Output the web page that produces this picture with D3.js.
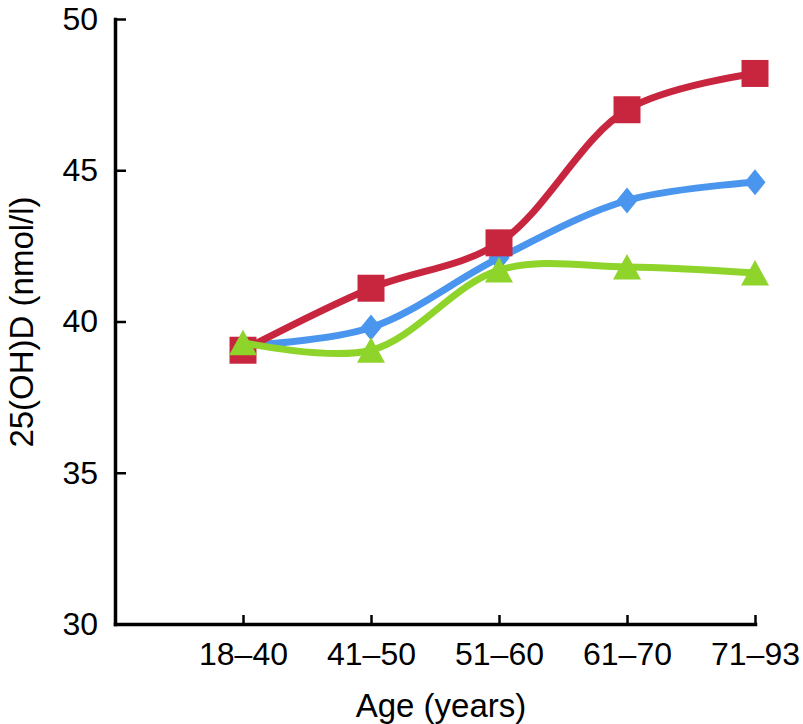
<!DOCTYPE html>
<html>
<head>
<meta charset="utf-8">
<script src="https://cdn.jsdelivr.net/npm/d3@7"></script>
<style>
  html, body { margin: 0; padding: 0; background: #fff; }
  svg { display: block; }
  text { font-family: "Liberation Sans", Arial, Helvetica, sans-serif; fill: #000; }
</style>
</head>
<body>
<svg id="chart" width="803" height="724"></svg>
<script>
// ---- data ----
const categories = ["18–40", "41–50", "51–60", "61–70", "71–93"];
const redSquares = [39.05, 41.1, 42.6, 47.0, 48.2];
const blueDiamonds = [39.2, 39.8, 42.1, 44.0, 44.6];
const greenTriangles = [39.3, 39.05, 41.7, 41.8, 41.6];
const yTicks = [30, 35, 40, 45, 50];
const xTitle = "Age (years)";
const yTitle = "25(OH)D (nmol/l)";

// ---- layout ----
const svg = d3.select("#chart");
const x = d3.scaleLinear().domain([0, categories.length]).range([115, 755]);
const y = d3.scaleLinear().domain([30, 50]).range([624, 19]);

const series = [
  { name: "blue", values: blueDiamonds, color: "#4a96ef", shape: "diamond" },
  { name: "red", values: redSquares, color: "#c8263f", shape: "square" },
  { name: "green", values: greenTriangles, color: "#8ed42b", shape: "triangle" }
];

function markerPath(shape) {
  const p = d3.path();
  if (shape === "square") {
    const h = 13.5;
    p.rect(-h, -h, 2 * h, 2 * h);
  } else if (shape === "diamond") {
    p.moveTo(0, -13); p.lineTo(10.5, 0); p.lineTo(0, 13); p.lineTo(-10.5, 0); p.closePath();
  } else {
    p.moveTo(0, -13); p.lineTo(14, 12.5); p.lineTo(-14, 12.5); p.closePath();
  }
  return p.toString();
}

// axes
const yAxis = d3.axisLeft(y).tickValues(yTicks).tickSizeInner(-11).tickSizeOuter(0).tickPadding(17);
const xAxis = d3.axisBottom(x).tickValues(categories.map((_, i) => i + 1))
  .tickFormat(i => categories[i - 1]).tickSizeInner(-9).tickSizeOuter(0).tickPadding(18);

const gx = svg.append("g").attr("transform", `translate(0,${y(30)})`).call(xAxis);
const gy = svg.append("g").attr("transform", `translate(${x(0)},0)`).call(yAxis);
[gx, gy].forEach(g => {
  g.select(".domain").attr("stroke", "#000").attr("stroke-width", 3.5).attr("stroke-linecap", "square");
  g.selectAll(".tick line").attr("stroke", "#000").attr("stroke-width", 2.5);
  g.selectAll(".tick text").attr("font-size", 32).attr("font-family", "Liberation Sans, Arial, sans-serif").attr("fill", "#000");
});

// lines
const line = d3.line().x((d, i) => x(i + 1)).y(d => y(d)).curve(d3.curveCatmullRom.alpha(0.5));
series.forEach(s => {
  svg.append("path").datum(s.values)
    .attr("d", line)
    .attr("fill", "none")
    .attr("stroke", s.color)
    .attr("stroke-width", 7)
    .attr("stroke-linejoin", "round")
    .attr("stroke-linecap", "round");
  svg.append("g").selectAll("path").data(s.values).join("path")
    .attr("d", markerPath(s.shape))
    .attr("transform", (d, i) => `translate(${x(i + 1)},${y(d)})`)
    .attr("fill", s.color);
});

// titles
svg.append("text")
  .attr("x", 441).attr("y", 717)
  .attr("text-anchor", "middle")
  .attr("font-size", 33)
  .text(xTitle);

svg.append("text")
  .attr("transform", `translate(33,${322}) rotate(-90)`)
  .attr("text-anchor", "middle")
  .attr("font-size", 33)
  .text(yTitle);
</script>
</body>
</html>
